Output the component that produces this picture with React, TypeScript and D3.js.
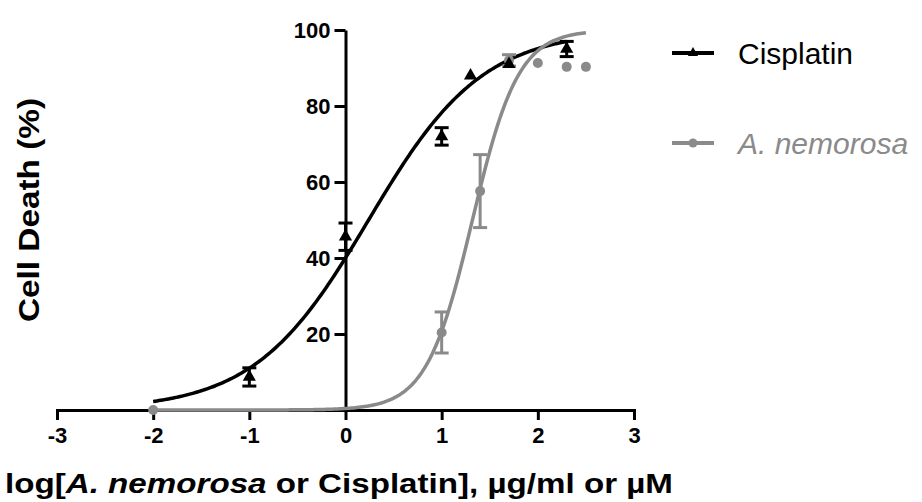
import React, { useEffect, useRef } from 'react';
import * as d3 from 'd3';

// Cisplatin: log concentration, mean cell death (%), error
const cisX = [-1, 0, 1, 1.3, 1.7, 2.3];
const cisY = [8.7, 45.6, 72, 88, 91, 95];
const cisErr = [2.4, 3.6, 2.3, 0, 0, 2];

// A. nemorosa
const nemX = [-2, 1, 1.4, 1.7, 2, 2.3, 2.5];
const nemY = [0, 20.4, 57.6, 92, 91.3, 90.3, 90.3];
const nemErr = [0, 5.4, 9.6, 1.5, 0, 0, 0];

// fitted sigmoid parameters (bottom, top, logEC50, hill) and drawn range
const cisFit = { bottom: 0, top: 100, logEC50: 0.24, hill: 0.732, from: -2, to: 2.3 };
const nemFit = { bottom: 0, top: 100, logEC50: 1.32, hill: 1.82, from: -2, to: 2.5 };

const xTicks = [-3, -2, -1, 0, 1, 2, 3];
const yTicks = [20, 40, 60, 80, 100];

const App = () => {
  const ref = useRef<SVGSVGElement>(null);

  const width = 922, height = 502;
  const BLACK = '#000000';
  const GREY = '#8a8a8a';
  const FONT = '"Liberation Sans", Arial, sans-serif';

  useEffect(() => {
    const svg = d3.select(ref.current);
    svg.selectAll('*').remove();

    const x = d3.scaleLinear().domain([-3, 3]).range([57, 634]);
    const y = d3.scaleLinear().domain([0, 100]).range([410, 30]);

    const sigmoid = (f: typeof cisFit) => (v: number) =>
      f.bottom + (f.top - f.bottom) / (1 + Math.pow(10, (f.logEC50 - v) * f.hill));

    const line = d3.line<number[]>().x(d => x(d[0])).y(d => y(d[1]));

    const curvePts = (f: typeof cisFit) => {
      const fn = sigmoid(f);
      return d3.range(f.from, f.to + 0.0001, 0.02).map(v => [v, fn(v)]);
    };

    // x axis
    const xAxis = svg.append('g')
      .attr('transform', `translate(0,${y(0)})`)
      .call(d3.axisBottom(x).tickValues(xTicks).tickSize(10).tickSizeOuter(10).tickPadding(7)
        .tickFormat(d => String(d)));
    xAxis.select('.domain').attr('stroke', BLACK).attr('stroke-width', 3);
    xAxis.selectAll('.tick line').attr('stroke', BLACK).attr('stroke-width', 3);
    xAxis.selectAll('.tick text')
      .attr('font-family', FONT).attr('font-size', 22).attr('font-weight', 'bold').attr('fill', BLACK);

    // y axis
    const yAxis = svg.append('g')
      .attr('transform', `translate(${x(0)},0)`)
      .call(d3.axisLeft(y).tickValues(yTicks).tickSize(11).tickSizeOuter(0).tickPadding(4));
    yAxis.select('.domain').attr('stroke', BLACK).attr('stroke-width', 3);
    yAxis.selectAll('.tick line').attr('stroke', BLACK).attr('stroke-width', 3);
    yAxis.selectAll('.tick text')
      .attr('font-family', FONT).attr('font-size', 22).attr('font-weight', 'bold').attr('fill', BLACK);

    // curves
    svg.append('path').attr('d', line(curvePts(cisFit)))
      .attr('fill', 'none').attr('stroke', BLACK).attr('stroke-width', 3.5);
    svg.append('path').attr('d', line(curvePts(nemFit)))
      .attr('fill', 'none').attr('stroke', GREY).attr('stroke-width', 3.5);

    const errorBars = (xs: number[], ys: number[], es: number[], color: string) => {
      const g = svg.append('g').attr('stroke', color).attr('stroke-width', 3);
      xs.forEach((xv, i) => {
        if (!es[i]) return;
        const cx = x(xv), top = y(ys[i] + es[i]), bot = y(ys[i] - es[i]);
        g.append('line').attr('x1', cx).attr('x2', cx).attr('y1', top).attr('y2', bot);
        g.append('line').attr('x1', cx - 7).attr('x2', cx + 7).attr('y1', top).attr('y2', top);
        g.append('line').attr('x1', cx - 7).attr('x2', cx + 7).attr('y1', bot).attr('y2', bot);
      });
    };

    // A. nemorosa points
    errorBars(nemX, nemY, nemErr, GREY);
    svg.append('g').attr('fill', GREY)
      .selectAll('circle')
      .data(nemX.map((v, i) => [v, nemY[i]]))
      .join('circle')
      .attr('cx', d => x(d[0])).attr('cy', d => y(d[1])).attr('r', 5);

    // Cisplatin points
    errorBars(cisX, cisY, cisErr, BLACK);
    const tri = d3.symbol().type(d3.symbolTriangle).size(75);
    svg.append('g').attr('fill', BLACK)
      .selectAll('path')
      .data(cisX.map((v, i) => [v, cisY[i]]))
      .join('path')
      .attr('d', tri)
      .attr('transform', d => `translate(${x(d[0])},${y(d[1])})`);

    // axis titles
    const xt = svg.append('text')
      .attr('x', 339).attr('y', 493)
      .attr('text-anchor', 'middle')
      .attr('textLength', 668).attr('lengthAdjust', 'spacingAndGlyphs')
      .attr('font-family', FONT).attr('font-size', 28).attr('font-weight', 'bold').attr('fill', BLACK);
    xt.append('tspan').text('log[');
    xt.append('tspan').attr('font-style', 'italic').text('A. nemorosa');
    xt.append('tspan').text(' or Cisplatin], µg/ml or µM');

    svg.append('text')
      .attr('transform', 'translate(39,210) rotate(-90)')
      .attr('text-anchor', 'middle')
      .attr('textLength', 224).attr('lengthAdjust', 'spacingAndGlyphs')
      .attr('font-family', FONT).attr('font-size', 30).attr('font-weight', 'bold').attr('fill', BLACK)
      .text('Cell Death (%)');

    // legend
    const legend = [
      { name: 'Cisplatin', color: BLACK, italic: false, y: 53, marker: 'tri' },
      { name: 'A. nemorosa', color: GREY, italic: true, y: 143, marker: 'circle' },
    ];
    legend.forEach(l => {
      const g = svg.append('g');
      g.append('line').attr('x1', 672).attr('x2', 714).attr('y1', l.y).attr('y2', l.y)
        .attr('stroke', l.color).attr('stroke-width', 4);
      if (l.marker === 'tri') {
        g.append('path').attr('d', d3.symbol().type(d3.symbolTriangle).size(45)())
          .attr('transform', `translate(693,${l.y})`).attr('fill', l.color);
      } else {
        g.append('circle').attr('cx', 693).attr('cy', l.y).attr('r', 4.5).attr('fill', l.color);
      }
      g.append('text').attr('x', 738).attr('y', l.y + 11)
        .attr('font-family', FONT).attr('font-size', 30)
        .attr('font-style', l.italic ? 'italic' : 'normal')
        .attr('fill', l.color).text(l.name);
    });
  }, []);

  return (
    <svg
      ref={ref}
      width={width}
      height={height}
      style={{ position: 'absolute', left: 0, top: 0, background: '#fff' }}
    />
  );
};

export default App;
